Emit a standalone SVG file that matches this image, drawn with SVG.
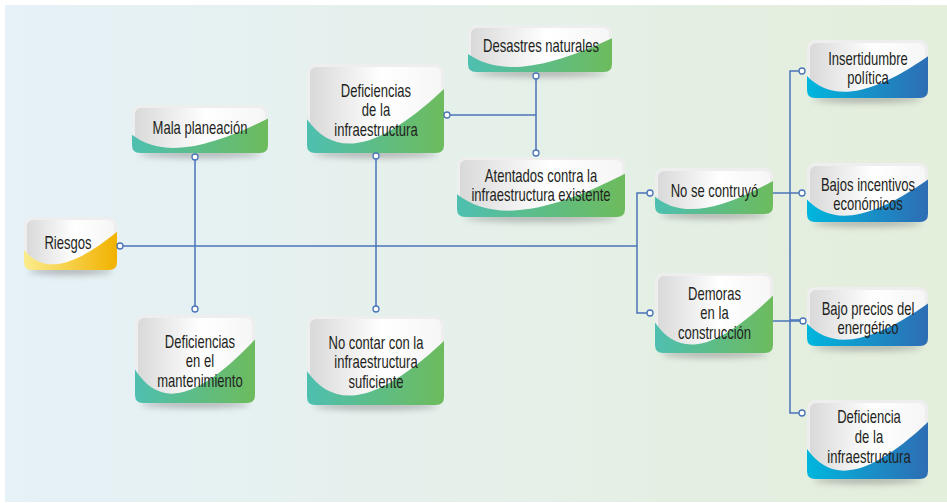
<svg xmlns="http://www.w3.org/2000/svg" width="947" height="503" viewBox="0 0 947 503">
<defs>
<linearGradient id="bg" x1="0" y1="0" x2="1" y2="0"><stop offset="0" stop-color="#e6f1f8"/><stop offset="0.5" stop-color="#e5f0ea"/><stop offset="1" stop-color="#e3eedb"/></linearGradient>
<linearGradient id="face" x1="0" y1="0" x2="1" y2="0"><stop offset="0" stop-color="#d9d9d9"/><stop offset="0.55" stop-color="#ffffff"/><stop offset="1" stop-color="#f6f6f6"/></linearGradient>
<linearGradient id="gGreen" x1="0" y1="0" x2="1" y2="0"><stop offset="0" stop-color="#4ebfb0"/><stop offset="1" stop-color="#6dbb5d"/></linearGradient>
<linearGradient id="gBlue" x1="0" y1="0" x2="1" y2="0"><stop offset="0" stop-color="#00b6dd"/><stop offset="1" stop-color="#2e6db4"/></linearGradient>
<linearGradient id="gYellow" x1="0" y1="0" x2="1" y2="0"><stop offset="0" stop-color="#fbec8c"/><stop offset="1" stop-color="#f1b200"/></linearGradient>
<filter id="blur" x="-20%" y="-200%" width="140%" height="500%"><feGaussianBlur stdDeviation="3"/></filter>
<style>
.card{fill:#eeeeee}
.face{fill:url(#face)}
.sh{fill:#6f6f6f;opacity:0.45;filter:url(#blur)}
.green{fill:url(#gGreen)}
.blue{fill:url(#gBlue)}
.yellow{fill:url(#gYellow)}
.t{font-family:"Liberation Sans",Arial,sans-serif;font-size:17.5px;fill:#231f20;text-anchor:middle}
.ln{stroke:#4a74b8;stroke-width:1.5;fill:none}
.dot{fill:#ffffff;stroke:#4a74b8;stroke-width:1.3}
</style>
</defs>
<rect x="5" y="5" width="942" height="497" fill="url(#bg)"/>

<g id="riesgos">
<ellipse class="sh" cx="70.5" cy="271" rx="42" ry="4"/>
<rect class="card" x="24" y="217" width="93" height="53" rx="8"/>
<rect class="face" x="27" y="220" width="87" height="47" rx="6"/>
<path class="yellow" d="M24,249.9 C42.6,272.6 70.5,270 117,231.8 V262 Q117,270 109,270 H32 Q24,270 24,262 Z"/>
<text class="t" transform="translate(68,249) scale(0.745,1)">Riesgos</text>
</g>

<g id="mala-planeacion">
<ellipse class="sh" cx="200" cy="154" rx="61" ry="4"/>
<rect class="card" x="132" y="105" width="136" height="48" rx="8"/>
<rect class="face" x="135" y="108" width="130" height="42" rx="6"/>
<path class="green" d="M132,134.8 C159.2,155.4 200,153 268,118.4 V145 Q268,153 260,153 H140 Q132,153 132,145 Z"/>
<text class="t" transform="translate(200,134) scale(0.745,1)">Mala planeación</text>
</g>

<g id="deficiencias-infraestructura">
<ellipse class="sh" cx="375.5" cy="154" rx="62" ry="4"/>
<rect class="card" x="307" y="64" width="137" height="89" rx="8"/>
<rect class="face" x="310" y="67" width="131" height="83" rx="6"/>
<path class="green" d="M307,119.2 C334.4,157.5 375.5,153 444,88.9 V145 Q444,153 436,153 H315 Q307,153 307,145 Z"/>
<text class="t" transform="translate(376,97) scale(0.745,1)"><tspan x="0" y="0">Deficiencias</tspan><tspan x="0" y="19.3">de la</tspan><tspan x="0" y="38.6">infraestructura</tspan></text>
</g>

<g id="desastres-naturales">
<ellipse class="sh" cx="540" cy="73" rx="65" ry="4"/>
<rect class="card" x="468" y="25" width="144" height="47" rx="8"/>
<rect class="face" x="471" y="28" width="138" height="41" rx="6"/>
<path class="green" d="M468,54.1 C496.8,74.4 540,72 612,38.2 V64 Q612,72 604,72 H476 Q468,72 468,64 Z"/>
<text class="t" transform="translate(541,52) scale(0.745,1)">Desastres naturales</text>
</g>

<g id="atentados">
<ellipse class="sh" cx="541" cy="218" rx="76" ry="4"/>
<rect class="card" x="457" y="157" width="168" height="60" rx="8"/>
<rect class="face" x="460" y="160" width="162" height="54" rx="6"/>
<path class="green" d="M457,194.2 C490.6,220 541,217 625,173.8 V209 Q625,217 617,217 H465 Q457,217 457,209 Z"/>
<text class="t" transform="translate(541,182) scale(0.745,1)"><tspan x="0" y="0">Atentados contra la</tspan><tspan x="0" y="19.3">infraestructura existente</tspan></text>
</g>

<g id="no-se-construyo">
<ellipse class="sh" cx="714" cy="215" rx="53" ry="4"/>
<rect class="card" x="655" y="168" width="118" height="46" rx="8"/>
<rect class="face" x="658" y="171" width="112" height="40" rx="6"/>
<path class="green" d="M655,196.5 C678.6,216.3 714,214 773,180.9 V206 Q773,214 765,214 H663 Q655,214 655,206 Z"/>
<text class="t" transform="translate(714.5,197) scale(0.745,1)">No se contruyó</text>
</g>

<g id="demoras">
<ellipse class="sh" cx="714" cy="354" rx="53" ry="4"/>
<rect class="card" x="655" y="273" width="118" height="80" rx="8"/>
<rect class="face" x="658" y="276" width="112" height="74" rx="6"/>
<path class="green" d="M655,322.6 C678.6,357 714,353 773,295.4 V345 Q773,353 765,353 H663 Q655,353 655,345 Z"/>
<text class="t" transform="translate(714.5,300) scale(0.745,1)"><tspan x="0" y="0">Demoras</tspan><tspan x="0" y="19.5">en la</tspan><tspan x="0" y="39">construcción</tspan></text>
</g>

<g id="insertidumbre">
<ellipse class="sh" cx="867.5" cy="99" rx="54" ry="4"/>
<rect class="card" x="807" y="40" width="121" height="58" rx="8"/>
<rect class="face" x="810" y="43" width="115" height="52" rx="6"/>
<path class="blue" d="M807,76 C831.2,100.9 867.5,98 928,56.2 V90 Q928,98 920,98 H815 Q807,98 807,90 Z"/>
<text class="t" transform="translate(868,65) scale(0.745,1)"><tspan x="0" y="0">Insertidumbre</tspan><tspan x="0" y="19.5">política</tspan></text>
</g>

<g id="bajos-incentivos">
<ellipse class="sh" cx="867.5" cy="223" rx="54" ry="4"/>
<rect class="card" x="807" y="163" width="121" height="59" rx="8"/>
<rect class="face" x="810" y="166" width="115" height="53" rx="6"/>
<path class="blue" d="M807,199.6 C831.2,225 867.5,222 928,179.5 V214 Q928,222 920,222 H815 Q807,222 807,214 Z"/>
<text class="t" transform="translate(868,191) scale(0.745,1)"><tspan x="0" y="0">Bajos incentivos</tspan><tspan x="0" y="19.5">económicos</tspan></text>
</g>

<g id="bajo-precios">
<ellipse class="sh" cx="867.5" cy="347" rx="54" ry="4"/>
<rect class="card" x="807" y="287" width="121" height="59" rx="8"/>
<rect class="face" x="810" y="290" width="115" height="53" rx="6"/>
<path class="blue" d="M807,323.6 C831.2,349 867.5,346 928,303.5 V338 Q928,346 920,346 H815 Q807,346 807,338 Z"/>
<text class="t" transform="translate(868,315) scale(0.745,1)"><tspan x="0" y="0">Bajo precios del</tspan><tspan x="0" y="19.5">energético</tspan></text>
</g>

<g id="deficiencia-infraestructura">
<ellipse class="sh" cx="867.5" cy="480" rx="54" ry="4"/>
<rect class="card" x="807" y="400" width="121" height="79" rx="8"/>
<rect class="face" x="810" y="403" width="115" height="73" rx="6"/>
<path class="blue" d="M807,449 C831.2,483 867.5,479 928,422.1 V471 Q928,479 920,479 H815 Q807,479 807,471 Z"/>
<text class="t" transform="translate(869,423) scale(0.745,1)"><tspan x="0" y="0">Deficiencia</tspan><tspan x="0" y="19.8">de la</tspan><tspan x="0" y="39.6">infraestructura</tspan></text>
</g>

<g id="deficiencias-mantenimiento">
<ellipse class="sh" cx="195" cy="404" rx="54" ry="4"/>
<rect class="card" x="135" y="315" width="120" height="88" rx="8"/>
<rect class="face" x="138" y="318" width="114" height="82" rx="6"/>
<path class="green" d="M135,369.6 C159,407.4 195,403 255,339.6 V395 Q255,403 247,403 H143 Q135,403 135,395 Z"/>
<text class="t" transform="translate(200,348) scale(0.745,1)"><tspan x="0" y="0">Deficiencias</tspan><tspan x="0" y="19.5">en el</tspan><tspan x="0" y="39">mantenimiento</tspan></text>
</g>

<g id="no-contar">
<ellipse class="sh" cx="375.5" cy="406" rx="62" ry="4"/>
<rect class="card" x="307" y="316" width="137" height="89" rx="8"/>
<rect class="face" x="310" y="319" width="131" height="83" rx="6"/>
<path class="green" d="M307,371.2 C334.4,409.5 375.5,405 444,340.9 V397 Q444,405 436,405 H315 Q307,405 307,397 Z"/>
<text class="t" transform="translate(376,349) scale(0.745,1)"><tspan x="0" y="0">No contar con la</tspan><tspan x="0" y="19.5">infraestructura</tspan><tspan x="0" y="39">suficiente</tspan></text>
</g>

<g id="connectors">
<path class="ln" d="M120,246 H637"/>
<path class="ln" d="M195,157 V309"/>
<path class="ln" d="M376,156 V309"/>
<path class="ln" d="M447,115 H536"/>
<path class="ln" d="M536,76 V153"/>
<path class="ln" d="M650,193 H637 V313 H650"/>
<path class="ln" d="M773,193 H802"/>
<path class="ln" d="M773,321 H803"/>
<path class="ln" d="M802,71 H790 V413 H802"/>
<path class="ln" d="M790,320 H802"/>
<circle class="dot" cx="120" cy="246" r="3"/>
<circle class="dot" cx="195" cy="157" r="3"/>
<circle class="dot" cx="195" cy="309" r="3"/>
<circle class="dot" cx="376" cy="156" r="3"/>
<circle class="dot" cx="376" cy="309" r="3"/>
<circle class="dot" cx="447" cy="115" r="3"/>
<circle class="dot" cx="536" cy="76" r="3"/>
<circle class="dot" cx="536" cy="153" r="3"/>
<circle class="dot" cx="650" cy="193" r="3"/>
<circle class="dot" cx="650" cy="313" r="3"/>
<circle class="dot" cx="802" cy="71" r="3"/>
<circle class="dot" cx="802" cy="193" r="3"/>
<circle class="dot" cx="803" cy="321" r="3"/>
<circle class="dot" cx="802" cy="413" r="3"/>
</g>
</svg>
